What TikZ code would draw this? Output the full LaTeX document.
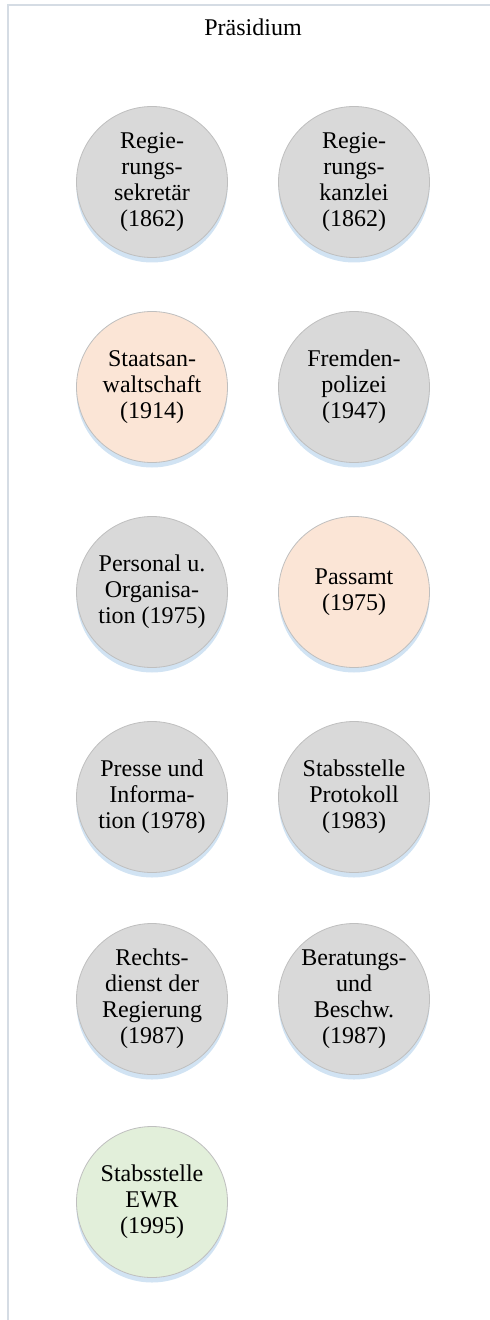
\documentclass[tikz,border=0pt]{standalone}
\usepackage{fontspec}
\setmainfont{Liberation Serif}
\usepackage{xcolor}
\usetikzlibrary{shadows}

\definecolor{greyfill}{HTML}{D9D9D9}
\definecolor{orangefill}{HTML}{FBE5D6}
\definecolor{greenfill}{HTML}{E2EFDA}
\definecolor{framecol}{HTML}{D5DCE4}
\definecolor{glowcol}{HTML}{BDD7EE}

\begin{document}
\begin{tikzpicture}[x=0.5pt,y=-0.5pt,
		office/.style={circle,draw=black!25,line width=0.4pt,minimum size=75.5pt,
			inner sep=0pt,align=center,font=\fontsize{12}{13}\selectfont,
			drop shadow={shadow xshift=0pt,shadow yshift=-2.5pt,fill=glowcol,opacity=0.7}},
		grey/.style={office,fill=greyfill},
		orange/.style={office,fill=orangefill},
		green/.style={office,fill=greenfill}]
		
		\useasboundingbox (0,0) rectangle (490,1320);
		
		% Frame
		\draw[framecol,line width=1pt] (8,1320) -- (8,5) -- (490,5);
		
		% Columns
		\def\xl{152}
		\def\xr{354}
		
		% Title
		\node[font=\fontsize{12}{13}\selectfont] (title) at (253,27) {Präsidium};
		
		% Row 1
		\node[grey] (sekretaer) at (\xl,182) {Regie-\\rungs-\\sekretär\\(1862)};
		\node[grey] (kanzlei) at (\xr,182) {Regie-\\rungs-\\kanzlei\\(1862)};
		
		% Row 2
		\node[orange] (staatsanw) at (\xl,387) {Staatsan-\\waltschaft\\(1914)};
		\node[grey] (fremden) at (\xr,387) {Fremden-\\polizei\\(1947)};
		
		% Row 3
		\node[grey] (personal) at (\xl,592) {Personal u.\\Organisa-\\tion (1975)};
		\node[orange] (passamt) at (\xr,592) {Passamt\\(1975)};
		
		% Row 4
		\node[grey] (presse) at (\xl,797) {Presse und\\Informa-\\tion (1978)};
		\node[grey] (protokoll) at (\xr,797) {Stabsstelle\\Protokoll\\(1983)};
		
		% Row 5
		\node[grey] (rechtsd) at (\xl,999) {Rechts-\\dienst der\\Regierung\\(1987)};
		\node[grey] (beratung) at (\xr,999) {Beratungs-\\und\\Beschw.\\(1987)};
		
		% Row 6
		\node[green] (ewr) at (\xl,1202) {Stabsstelle\\EWR\\(1995)};
		
	\end{tikzpicture}
\end{document}
